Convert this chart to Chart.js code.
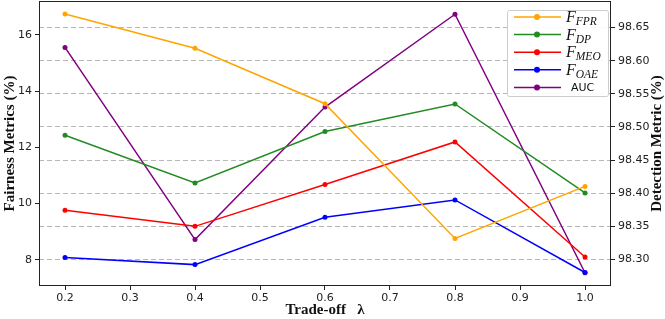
<!DOCTYPE html>
<html>
<head>
<meta charset="utf-8">
<script src="https://cdn.jsdelivr.net/npm/chart.js@4.4.1/dist/chart.umd.min.js"></script>
<style>
  html, body { margin: 0; padding: 0; background: #fff; }
  canvas { display: block; }
</style>
</head>
<body>
<canvas id="myChart" width="665" height="319"></canvas>
<script>
// ___________ data ___________ //
const lambdas = [0.2, 0.4, 0.6, 0.8, 1.0];
const fFPR = [16.74, 15.52, 13.55, 8.76, 10.61];
const fDP = [12.43, 10.73, 12.56, 13.54, 10.38];
const fMEO = [9.76, 9.19, 10.68, 12.19, 8.10];
const fOAE = [8.08, 7.83, 9.51, 10.13, 7.55];
const auc = [98.62, 98.33, 98.53, 98.67, 98.28];

const xTicks = [0.2, 0.3, 0.4, 0.5, 0.6, 0.7, 0.8, 0.9, 1.0];
const leftTicks = [8, 10, 12, 14, 16];
const rightTicks = [98.30, 98.35, 98.40, 98.45, 98.50, 98.55, 98.60, 98.65];

const names = ["F_FPR", "F_DP", "F_MEO", "F_OAE", "AUC"];
const colors = ["#FFA500", "#228B22", "#FF0000", "#0000FF", "#800080"];
const rightTitle = "Detection Metric (%)";

// ___________ helpers ___________ //
function pts(ys) {
  return lambdas.map(function (x, i) { return { x: x, y: ys[i] }; });
}
function series(i, ys, axis) {
  return {
    label: names[i],
    data: pts(ys),
    yAxisID: axis,
    borderColor: colors[i],
    backgroundColor: colors[i],
    borderWidth: 1.5,
    pointRadius: 2.5,
    pointBorderWidth: 0,
    tension: 0,
  };
}
function noPad(s) {
  s.paddingTop = 0;
  s.paddingBottom = 0;
  s.paddingLeft = 0;
  s.paddingRight = 0;
}

// frame + legend + right title drawn by hand (mathtext style labels)
const framePlugin = {
  id: "frame",
  afterDraw(chart) {
    const ctx = chart.ctx;
    const a = chart.chartArea;
    ctx.save();
    ctx.strokeStyle = "#222";
    ctx.lineWidth = 1;
    ctx.strokeRect(a.left + 0.5, a.top + 0.5, a.right - a.left - 1, a.bottom - a.top - 1);

    // right axis title, reading bottom to top like the left one
    ctx.save();
    ctx.translate(chart.width - 8, (a.top + a.bottom) / 2);
    ctx.rotate(-Math.PI / 2);
    ctx.fillStyle = "#111";
    ctx.font = "bold 15px 'Liberation Serif'";
    ctx.textAlign = "center";
    ctx.textBaseline = "middle";
    ctx.fillText(rightTitle, 0, 0);
    ctx.restore();

    // legend box
    const bx = a.right - 104, by = a.top + 9, bw = 101, bh = 86;
    ctx.fillStyle = "rgba(255,255,255,0.9)";
    ctx.strokeStyle = "#cccccc";
    ctx.beginPath();
    ctx.roundRect(bx + 0.5, by + 0.5, bw, bh, 2);
    ctx.fill();
    ctx.stroke();

    chart.data.datasets.forEach(function (ds, i) {
      const y = by + 7 + i * 17.6;
      ctx.strokeStyle = ds.borderColor;
      ctx.lineWidth = 1.5;
      ctx.beginPath();
      ctx.moveTo(bx + 7, y);
      ctx.lineTo(bx + 54, y);
      ctx.stroke();
      ctx.fillStyle = ds.borderColor;
      ctx.beginPath();
      ctx.arc(bx + 30, y, 3, 0, Math.PI * 2);
      ctx.fill();

      ctx.fillStyle = "#111";
      ctx.textBaseline = "alphabetic";
      ctx.textAlign = "left";
      const parts = ds.label.split("_");
      if (parts.length === 2) {
        ctx.font = "italic 16px 'Liberation Serif'";
        ctx.fillText(parts[0], bx + 59, y + 5);
        const w = ctx.measureText(parts[0]).width;
        ctx.font = "italic 11.5px 'Liberation Serif'";
        ctx.fillText(parts[1], bx + 59 + w, y + 8);
      } else {
        ctx.font = "11px 'DejaVu Sans'";
        ctx.fillText(ds.label, bx + 64, y + 4);
      }
    });
    ctx.restore();
  },
};

const titleFont = { family: "'Liberation Serif'", size: 15, weight: "bold" };
const tickFont = { family: "'DejaVu Sans'", size: 11 };

const ctx = document.getElementById("myChart").getContext("2d");
const myChart = new Chart(ctx, {
  type: "line",
  data: {
    datasets: [
      series(0, fFPR, "y"),
      series(1, fDP, "y"),
      series(2, fMEO, "y"),
      series(3, fOAE, "y"),
      series(4, auc, "y1"),
    ],
  },
  options: {
    responsive: false,
    animation: false,
    layout: { autoPadding: false, padding: { top: 1, left: 0, right: 0, bottom: 0 } },
    plugins: {
      legend: { display: false },
      tooltip: { enabled: false },
    },
    scales: {
      x: {
        type: "linear",
        min: 0.16,
        max: 1.04,
        afterBuildTicks: function (s) { s.ticks = xTicks.map(function (v) { return { value: v }; }); },
        afterFit: function (s) { s.height = 33; noPad(s); },
        ticks: {
          font: tickFont,
          color: "#222",
          padding: 2,
          maxRotation: 0,
          callback: function (v) { return v.toFixed(1); },
        },
        grid: { drawOnChartArea: false, drawTicks: true, tickLength: 4, tickColor: "#222" },
        border: { display: false },
        title: { display: true, text: "Trade-off   λ", font: titleFont, color: "#111", padding: { top: 2, bottom: 0 } },
      },
      y: {
        type: "linear",
        position: "left",
        min: 7.07,
        max: 17.2,
        afterBuildTicks: function (s) { s.ticks = leftTicks.map(function (v) { return { value: v }; }); },
        afterFit: function (s) { s.width = 39; noPad(s); },
        ticks: { font: tickFont, color: "#222", padding: 3 },
        grid: { drawOnChartArea: false, drawTicks: true, tickLength: 4, tickColor: "#222" },
        border: { display: false },
        title: { display: true, text: "Fairness Metrics (%)", font: titleFont, color: "#111", padding: { top: 1, bottom: 0 } },
      },
      y1: {
        type: "linear",
        position: "right",
        min: 98.26,
        max: 98.69,
        afterBuildTicks: function (s) { s.ticks = rightTicks.map(function (v) { return { value: v }; }); },
        afterFit: function (s) { s.width = 54; noPad(s); },
        ticks: {
          font: tickFont,
          color: "#222",
          padding: 3,
          callback: function (v) { return v.toFixed(2); },
        },
        grid: { drawOnChartArea: true, color: "#b8b8b8", lineWidth: 1, drawTicks: true, tickLength: 4, tickColor: "#222" },
        border: { display: false, dash: [5, 3] },
      },
    },
  },
  plugins: [framePlugin],
});
</script>
</body>
</html>
